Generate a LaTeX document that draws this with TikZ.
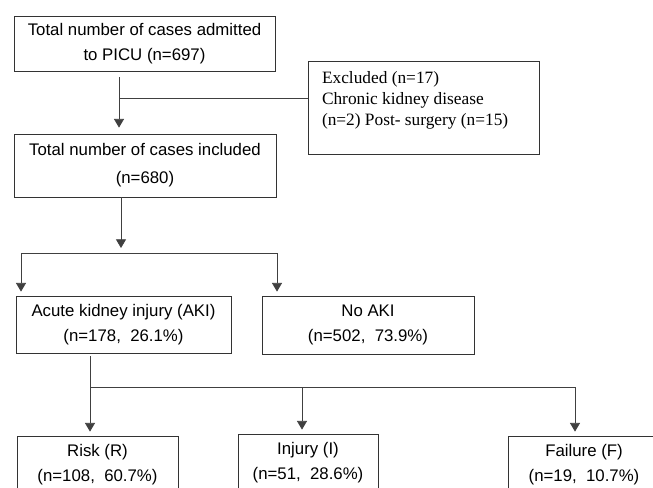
\documentclass[tikz,border=0pt]{standalone}
\usepackage{fontspec}
\usepackage{tikz}
\usetikzlibrary{arrows.meta}
\usetikzlibrary{calc}
\newfontfamily\boxfont{Liberation Sans}
\newfontfamily\notefont{Liberation Serif}
\begin{document}
\begin{tikzpicture}[
    x=0.75pt, y=-0.75pt,
    box style/.style={draw=black!80, line width=0.6pt, fill=white, align=center, inner sep=0pt,
        font=\boxfont\fontsize{12.6}{19}\selectfont},
    box size/.style 2 args={minimum width=#1*0.75pt, minimum height=#2*0.75pt},
    note style/.style={draw=black!80, line width=0.6pt, inner xsep=10.5pt, inner ysep=7.5pt,
        font=\notefont\fontsize{13}{15.75}\selectfont},
    line style/.style={draw=black!75, line width=0.6pt},
    arrow style/.style={line style, -{Triangle[width=7.5pt,length=6.5pt]}}
]
\useasboundingbox (0,0) rectangle (653,487);
\clip (0,0) rectangle (653,487);

% boxes
\node[box style, box size={261}{55}] (admit) at (144.5,43.5) {Total number of cases admitted\\to PICU (n=697)};
\node[note style] (excl) at (423.5,107.5) {\parbox[c][54.75pt][t]{152.25pt}{\raggedright
    Excluded (n=17)\\Chronic kidney disease\\(n=2) Post- surgery (n=15)}};
\node[box style, box size={262}{63}, font=\boxfont\fontsize{12.6}{21}\selectfont] (incl) at (145,165.5) {Total number of cases included\\(n=680)};
\node[box style, box size={215}{57}] (aki) at (123.5,324.5) {Acute kidney injury (AKI)\\(n=178,~~26.1\%)};
\node[box style, box size={212}{58}] (noaki) at (368,325) {No AKI\\(n=502,~~73.9\%)};
\node[box style, box size={161}{57}] (risk) at (97.5,464.5) {Risk (R)\\(n=108,~~60.7\%)};
\node[box style, box size={140}{57}] (injury) at (308,462.5) {Injury (I)\\(n=51,~~28.6\%)};
\node[box style, box size={152}{57}] (failure) at (584,464.5) {Failure (F)\\(n=19,~~10.7\%)};

% junctions
\coordinate (j0) at (119,98);
\coordinate (j1) at (121,253);
\coordinate (j1l) at (21,253);
\coordinate (j1r) at (277,253);
\coordinate (j2l) at (90,387);
\coordinate (j2m) at (302,387);
\coordinate (j2r) at (575,387);

% connectors
\draw[arrow style, shorten <=4.5pt, shorten >=4.5pt] (admit.south -| j0) -- (incl.north -| j0);
\draw[line style] (j0) -- (excl.west |- j0);
\draw[arrow style, shorten >=3.75pt] (incl.south -| j1) -- (j1);
\draw[line style] (j1l) -- (j1r);
\draw[arrow style, shorten >=3pt] (j1l) -- (aki.north -| j1l);
\draw[arrow style, shorten >=3pt] (j1r) -- (noaki.north -| j1r);
\draw[line style, shorten <=2.25pt] (aki.south -| j2l) -- (j2l) -- (j2r);
\draw[arrow style, shorten >=3pt] (j2l) -- (risk.north -| j2l);
\draw[arrow style, shorten >=3pt] (j2m) -- (injury.north -| j2m);
\draw[arrow style, shorten >=3pt] (j2r) -- (failure.north -| j2r);
\end{tikzpicture}
\end{document}
